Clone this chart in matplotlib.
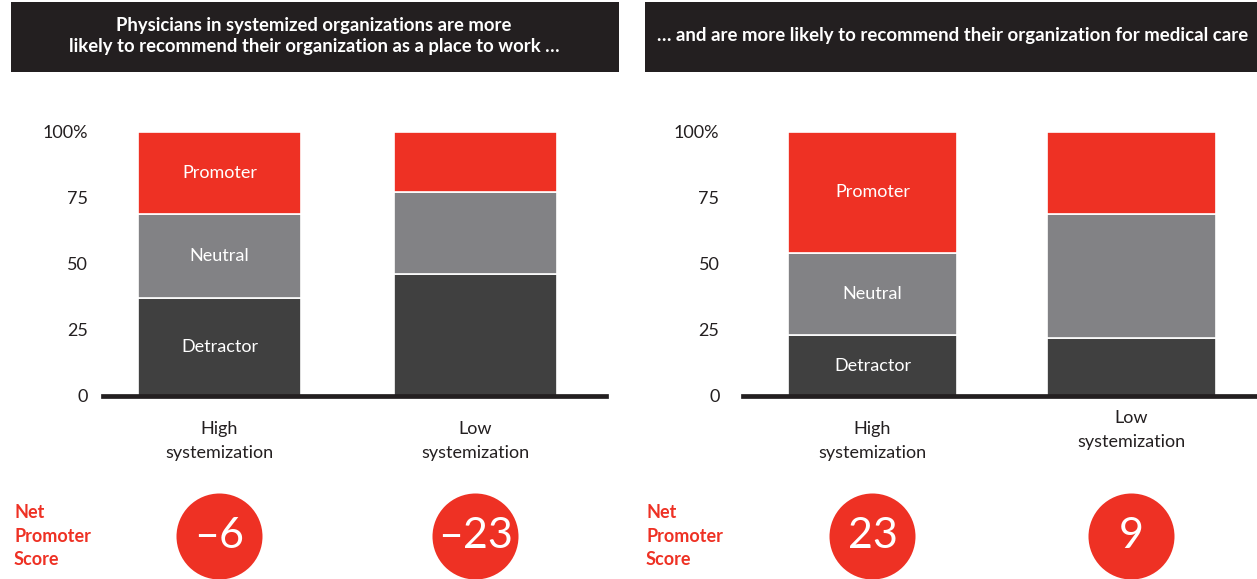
import matplotlib
matplotlib.use("Agg")
import matplotlib.pyplot as plt
from matplotlib import transforms
import numpy as np

# ---------------- data ----------------
categories = ["High\nsystemization", "Low\nsystemization"]
segments = ["Detractor", "Neutral", "Promoter"]

work_detractor = [37, 46]
work_neutral = [32, 31]
work_promoter = [31, 23]
work_nps = [-6, -23]

care_detractor = [23, 22]
care_neutral = [31, 47]
care_promoter = [46, 31]
care_nps = [23, 9]

yticks = [0, 25, 50, 75, 100]
yticklabels = ["0", "25", "50", "75", "100%"]

title_left = "Physicians in systemized organizations are more\nlikely to recommend their organization as a place to work \u2026"
title_right = "\u2026 and are more likely to recommend their organization for medical care"
nps_label = "Net\nPromoter\nScore"

# ---------------- style ----------------
RED = "#EE3124"
GRAY = "#828285"
DARK = "#404040"
HEAD = "#231F20"
colors = [DARK, GRAY, RED]
BODY_FONT = ["Lato", "DejaVu Sans"]
BOLD_FONT = ["Lato", "DejaVu Sans"]

W, H = 1257, 579
DPI = 100
fig = plt.figure(figsize=(W / DPI, H / DPI), dpi=DPI)
fig.patch.set_facecolor("white")


def fx(px):
    return px / W


def fy(py):
    return 1 - py / H


def add_axes_px(x0, x1, ytop, ybot):
    return fig.add_axes([fx(x0), fy(ybot), fx(x1) - fx(x0), (ybot - ytop) / H])


# header boxes
for (x0, x1) in [(11, 619), (645, 1257)]:
    fig.patches.append(plt.Rectangle((fx(x0), fy(72)), fx(x1) - fx(x0), 70 / H,
                                     transform=fig.transFigure, facecolor=HEAD,
                                     edgecolor="none", zorder=0))
fig.text(fx(314), fy(36), title_left, ha="center", va="center", color="white",
         fontsize=13.3, fontweight="bold", family=BOLD_FONT, linespacing=1.35)
fig.text(fx(953), fy(36), title_right, ha="center", va="center", color="white",
         fontsize=13.4, fontweight="bold", family=BOLD_FONT)

panels = [
    dict(x0=103, x1=606, xlim=(-0.455, 1.51), width=0.64, pad=11,
         det=work_detractor, neu=work_neutral, pro=work_promoter, nps=work_nps,
         cat_ys=[441, 441], nps_x=14),
    dict(x0=743, x1=1257, xlim=(-0.5, 1.485), width=0.65, pad=17,
         det=care_detractor, neu=care_neutral, pro=care_promoter, nps=care_nps,
         cat_ys=[441, 430], nps_x=646),
]

for p in panels:
    ax = add_axes_px(p["x0"], p["x1"], 131.7, 396)
    x = np.arange(len(categories))
    bottom = np.zeros(len(categories))
    vals = [p["det"], p["neu"], p["pro"]]
    for name, v, c in zip(segments, vals, colors):
        v = np.array(v, dtype=float)
        ax.bar(x, v, width=p["width"], bottom=bottom, color=c,
               edgecolor="white", linewidth=1.2, zorder=2)
        # label only the first bar
        ax.text(x[0], bottom[0] + v[0] / 2, name, ha="center", va="center",
                color="white", fontsize=13, family=BODY_FONT)
        bottom = bottom + v
    ax.set_xlim(*p["xlim"])
    ax.set_ylim(0, 100)
    ax.set_yticks(yticks)
    ax.set_yticklabels(yticklabels, family=BODY_FONT, fontsize=13, color="#231F20")
    ax.tick_params(axis="y", length=0, pad=p["pad"])
    ax.set_xticks([])
    for s in ["top", "right", "left"]:
        ax.spines[s].set_visible(False)
    ax.spines["bottom"].set_linewidth(3.4)
    ax.spines["bottom"].set_color(HEAD)
    ax.spines["bottom"].set_zorder(5)
    ax.patch.set_alpha(0)

    blend = transforms.blended_transform_factory(ax.transData, fig.transFigure)
    for xi, cat, cy in zip(x, categories, p["cat_ys"]):
        ax.text(xi, fy(cy), cat, transform=blend, ha="center", va="center",
                fontsize=13, family=BODY_FONT, color="#231F20", linespacing=1.6,
                clip_on=False)
    # NPS circles
    ax.scatter(x, [fy(536)] * len(x), s=(86 * 72 / DPI) ** 2, color=RED,
               transform=blend, clip_on=False, zorder=3, linewidths=0)
    for xi, n in zip(x, p["nps"]):
        label = ("\u2013" + str(abs(n))) if n < 0 else str(n)
        ax.text(xi, fy(536), label, transform=blend, ha="center", va="center",
                color="white", fontsize=31, family=BODY_FONT,
                clip_on=False, zorder=4)
    fig.text(fx(p["nps_x"]), fy(536), nps_label, ha="left", va="center",
             color=RED, fontsize=13, fontweight="bold", family=BOLD_FONT,
             linespacing=1.45)

fig.savefig("out.png", dpi=DPI, facecolor="white")
